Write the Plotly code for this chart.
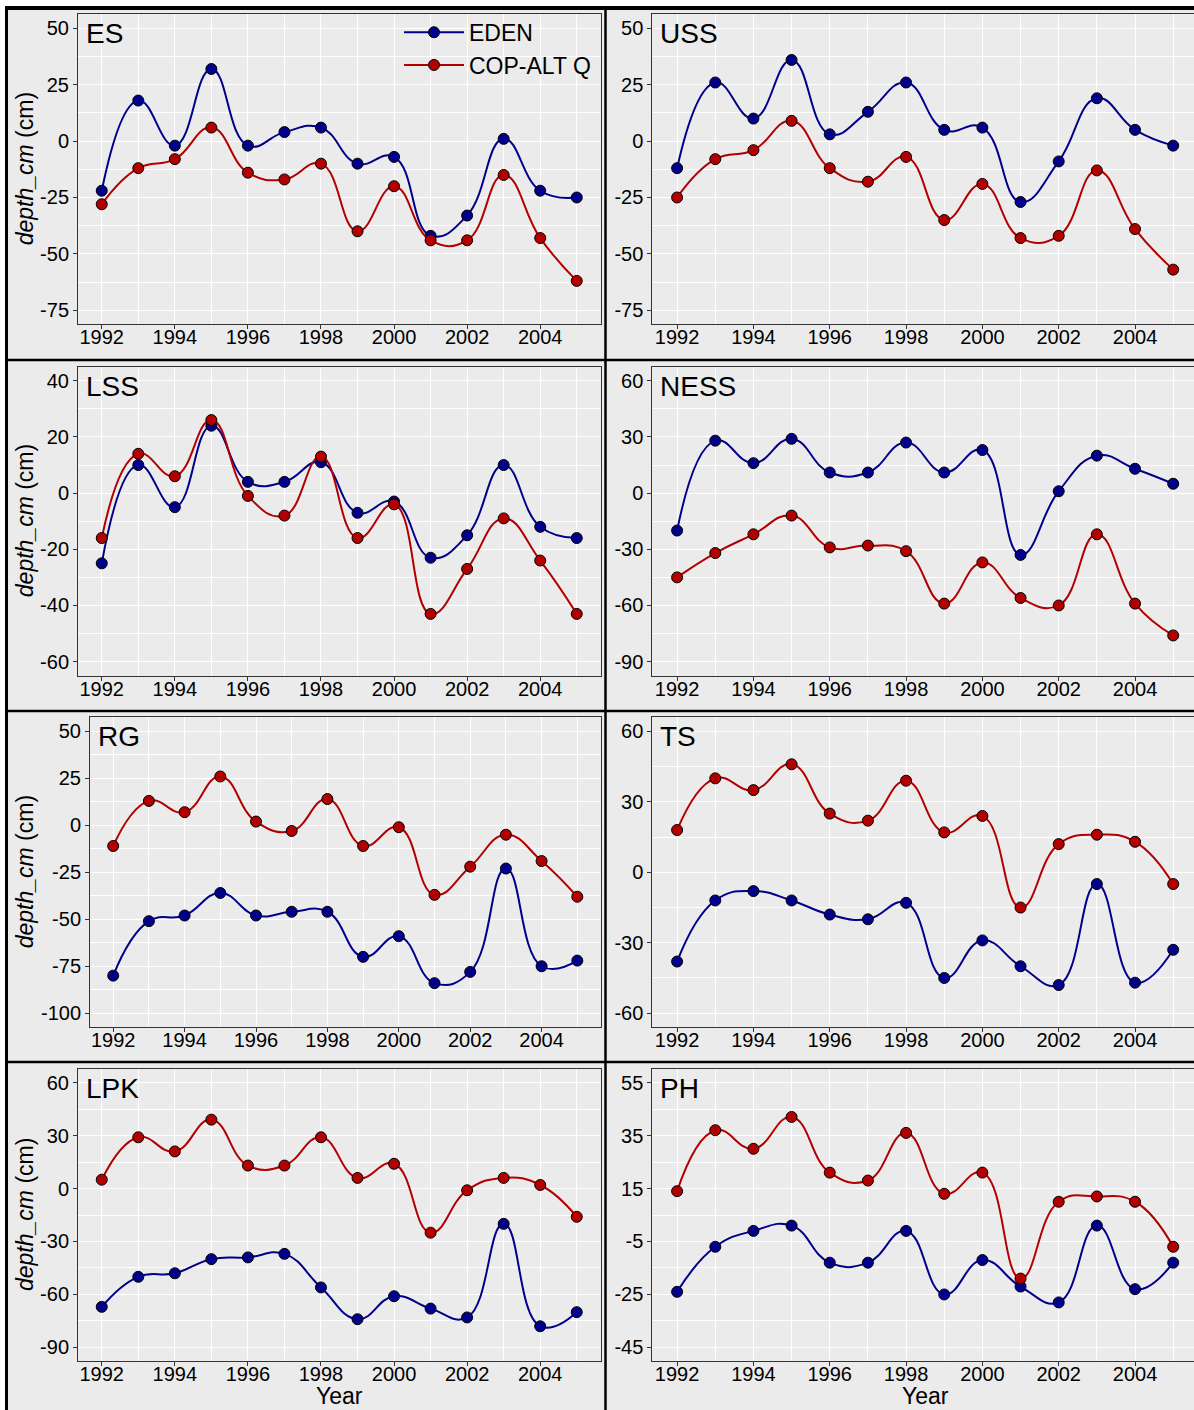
import plotly.graph_objects as go

# ---- data -----------------------------------------------------------------
years = list(range(1992, 2006))
even_years = list(range(1992, 2006, 2))
odd_years = list(range(1993, 2006, 2))

sites = ["ES", "USS", "LSS", "NESS", "RG", "TS", "LPK", "PH"]

eden = {
    "ES":   [-22, 18, -2, 32, -2, 4, 6, -10, -7, -42, -33, 1, -22, -25],
    "USS":  [-12, 26, 10, 36, 3, 13, 26, 5, 6, -27, -9, 19, 5, -2],
    "LSS":  [-25, 10, -5, 24, 4, 4, 11, -7, -3, -23, -15, 10, -12, -16],
    "NESS": [-20, 28, 16, 29, 11, 11, 27, 11, 23, -33, 1, 20, 13, 5],
    "RG":   [-80, -51, -48, -36, -48, -46, -46, -70, -59, -84, -78, -23, -75, -72],
    "TS":   [-38, -12, -8, -12, -18, -20, -13, -45, -29, -40, -48, -5, -47, -33],
    "LPK":  [-67, -50, -48, -40, -39, -37, -56, -74, -61, -68, -73, -20, -78, -70],
    "PH":   [-24, -7, -1, 1, -13, -13, -1, -25, -12, -22, -28, 1, -23, -13],
}

cop_alt_q = {
    "ES":   [-28, -12, -8, 6, -14, -17, -10, -40, -20, -44, -44, -15, -43, -62],
    "USS":  [-25, -8, -4, 9, -12, -18, -7, -35, -19, -43, -42, -13, -39, -57],
    "LSS":  [-16, 14, 6, 26, -1, -8, 13, -16, -4, -43, -27, -9, -24, -43],
    "NESS": [-45, -32, -22, -12, -29, -28, -31, -59, -37, -56, -60, -22, -59, -76],
    "RG":   [-11, 13, 7, 26, 2, -3, 14, -11, -1, -37, -22, -5, -19, -38],
    "TS":   [18, 40, 35, 46, 25, 22, 39, 17, 24, -15, 12, 16, 13, -5],
    "LPK":  [5, 29, 21, 39, 13, 13, 29, 6, 14, -25, -1, 6, 2, -16],
    "PH":   [14, 37, 30, 42, 21, 18, 36, 13, 21, -19, 10, 12, 10, -7],
}

# y-axis limits and tick step for each site
y_limits = {
    "ES": (-75, 50), "USS": (-75, 50), "LSS": (-60, 40), "NESS": (-90, 60),
    "RG": (-100, 50), "TS": (-60, 60), "LPK": (-90, 60), "PH": (-45, 55),
}
y_steps = {"ES": 25, "USS": 25, "LSS": 20, "NESS": 30,
           "RG": 25, "TS": 30, "LPK": 30, "PH": 20}

series_names = ["EDEN", "COP-ALT Q"]
series_colors = ["#00008B", "#B20000"]

# ---- page geometry (pixels) ---------------------------------------------
W, H = 1194, 1410
BG = "#EBEBEB"
FONT = "Liberation Sans, Arial, Helvetica, sans-serif"

col_right_edge = [600.5, 1198.0]
col_left_edge = [78.0, 652.3]
row_spans = [(14.3, 324.3), (366.7, 675.7), (717.3, 1027.3), (1069.3, 1360.7)]


def px_x(v):
    return v / W


def px_y(v):
    return 1 - v / H


def expand(lo, hi, f=0.05):
    pad = (hi - lo) * f
    return lo - pad, hi + pad


x_lo, x_hi = expand(years[0], years[-1])

fig = go.Figure()
layout = dict(
    width=W, height=H,
    margin=dict(l=0, r=0, t=0, b=0),
    paper_bgcolor=BG, plot_bgcolor=BG,
    font=dict(family=FONT, color="black"),
    showlegend=True,
)
annotations = []

for i, site in enumerate(sites):
    row, col = divmod(i, 2)
    sfx = "" if i == 0 else str(i + 1)
    x0 = col_left_edge[col]
    if site == "RG":
        x0 = 90.0
    x1 = col_right_edge[col]
    y0, y1 = row_spans[row]

    # the right column runs past the page edge: clip the visible range
    vis_x1 = min(x1, W)
    xr_hi = x_lo + (vis_x1 - x0) / (x1 - x0) * (x_hi - x_lo)

    lo, hi = y_limits[site]
    step = y_steps[site]
    yt = list(range(lo, hi + 1, step))
    y_minor = [v + step / 2 for v in yt[:-1]]

    common = dict(
        showline=True, mirror=True, linecolor="#333333", linewidth=1,
        ticks="outside", ticklen=4, tickcolor="#333333", tickwidth=1,
        showgrid=True, gridcolor="white", gridwidth=1.1, zeroline=False,
        tickfont=dict(size=20, color="black", family=FONT),
    )
    layout["xaxis" + sfx] = dict(
        common, domain=[px_x(x0), px_x(vis_x1)], range=[x_lo, xr_hi],
        anchor="y" + sfx, tickvals=even_years,
        ticktext=[str(v) for v in even_years], ticklabelstandoff=-9,
        minor=dict(tickvals=odd_years, showgrid=True, gridcolor="white",
                   gridwidth=0.55, ticks=""),
    )
    layout["yaxis" + sfx] = dict(
        common, domain=[px_y(y1), px_y(y0)], range=list(expand(lo, hi)),
        anchor="x" + sfx, tickvals=yt, ticktext=[str(v) for v in yt],
        minor=dict(tickvals=y_minor, showgrid=True, gridcolor="white",
                   gridwidth=0.55, ticks=""),
    )

    for k, (name, data) in enumerate(zip(series_names, [eden, cop_alt_q])):
        fig.add_trace(go.Scatter(
            x=years, y=data[site], mode="lines+markers", name=name,
            xaxis="x" + sfx, yaxis="y" + sfx,
            line=dict(color=series_colors[k], width=2, shape="spline",
                      smoothing=1.3),
            marker=dict(size=11, color=series_colors[k],
                        line=dict(color="black", width=1)),
            showlegend=(i == 0),
            legend="legend" if k == 0 else "legend2",
        ))

    # site label in the panel corner
    annotations.append(dict(
        text=site, xref="paper", yref="paper",
        x=px_x(x0 + 6), y=px_y(y0 + 19.5), xanchor="left", yanchor="middle",
        showarrow=False, font=dict(size=28, color="black", family=FONT),
    ))
    if col == 0:
        annotations.append(dict(
            text="<i>depth_cm</i> (cm)", xref="paper", yref="paper",
            x=px_x(25), y=px_y((y0 + y1) / 2), xanchor="center",
            yanchor="middle", textangle=-90, showarrow=False,
            font=dict(size=23, color="black", family=FONT),
        ))
    if row == 3:
        annotations.append(dict(
            text="Year", xref="paper", yref="paper",
            x=px_x((x0 + x1) / 2), y=px_y(1396), xanchor="center",
            yanchor="middle", showarrow=False,
            font=dict(size=23, color="black", family=FONT),
        ))

legend_style = dict(
    xref="paper", yref="paper", xanchor="left", yanchor="middle",
    bgcolor="rgba(0,0,0,0)", borderwidth=0,
    font=dict(size=23, color="black", family=FONT), itemwidth=60,
)
layout["legend"] = dict(legend_style, x=px_x(399), y=px_y(32.3))
layout["legend2"] = dict(legend_style, x=px_x(399), y=px_y(65))

# frame: white margin strips and black dividers between panels
shapes = [
    dict(type="rect", xref="paper", yref="paper", x0=0, x1=1,
         y0=px_y(6), y1=1, fillcolor="white", line=dict(width=0), layer="above"),
    dict(type="rect", xref="paper", yref="paper", x0=0, x1=px_x(5),
         y0=0, y1=1, fillcolor="white", line=dict(width=0), layer="above"),
    dict(type="line", xref="paper", yref="paper", x0=px_x(5), x1=1,
         y0=px_y(8), y1=px_y(8), line=dict(color="black", width=4), layer="above"),
    dict(type="line", xref="paper", yref="paper", x0=px_x(6.5), x1=px_x(6.5),
         y0=0, y1=px_y(6), line=dict(color="black", width=3), layer="above"),
    dict(type="line", xref="paper", yref="paper", x0=px_x(605.5), x1=px_x(605.5),
         y0=0, y1=px_y(8), line=dict(color="black", width=2.5), layer="above"),
]
for yy in (360, 711, 1062):
    shapes.append(dict(type="line", xref="paper", yref="paper",
                       x0=px_x(6), x1=1, y0=px_y(yy), y1=px_y(yy),
                       line=dict(color="black", width=2.5), layer="above"))

layout["annotations"] = annotations
layout["shapes"] = shapes
fig.update_layout(**layout)

fig.write_html("out.html")
